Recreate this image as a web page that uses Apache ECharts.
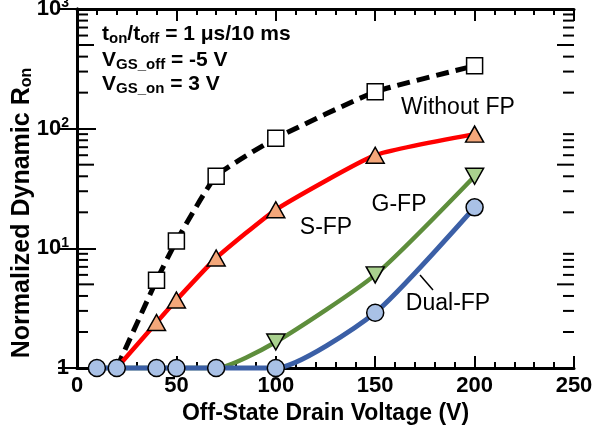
<!DOCTYPE html>
<html>
<head>
<meta charset="utf-8">
<script src="https://cdn.jsdelivr.net/npm/echarts@6/dist/echarts.min.js"></script>
<style>
  html, body { margin: 0; padding: 0; background: #fff; }
  #main { width: 605px; height: 425px; }
</style>
</head>
<body>
<div id="main"></div>
<script>
// data
const voltages = [10, 20, 40, 50, 70, 100, 150, 200]
const withoutFP = [1, 1, 5.4, 11.5, 40, 83, 203, 335]
const sFP = [1, 1, 2.4, 3.7, 8.3, 21, 60, 90]
const gFP = [1, 1, 1, 1, 1, 1.65, 6.0, 40]
const dualFP = [1, 1, 1, 1, 1, 1, 2.9, 22]
const yMinorTicks = [2, 3, 4, 5, 6, 7, 8, 9, 20, 30, 40, 50, 60, 70, 80, 90, 200, 300, 400, 500, 600, 700, 800, 900]

const FONT = '"Liberation Sans", Arial, sans-serif'

// markers sitting on the 1-line are hidden behind the Dual-FP circles
function pts (vals, hideOnes) {
  return vals.map((v, i) => {
    if (hideOnes && v <= 1) return { value: [voltages[i], v], symbol: 'none' }
    return [voltages[i], v]
  })
}

const myChart = echarts.init(document.getElementById('main'))

const axisLine = { lineStyle: { color: '#000', width: 3 } }
const subStyle = (size, pad) => ({ fontSize: size, fontWeight: 'bold', fontFamily: FONT, fill: '#000', padding: pad })

myChart.setOption({
  animation: false,
  grid: { left: 77, right: 31, top: 9, bottom: 57, outerBoundsMode: 'none', containLabel: false },
  xAxis: [
    {
      type: 'value',
      min: 0,
      max: 250,
      interval: 50,
      axisLine: axisLine,
      axisTick: { inside: true, length: 12, lineStyle: { color: '#000', width: 2 } },
      minorTick: { show: true, splitNumber: 5, length: 6, lineStyle: { color: '#000', width: 2 } },
      splitLine: { show: false },
      axisLabel: { color: '#000', fontSize: 22, fontWeight: 'bold', fontFamily: FONT, margin: 7 },
      name: 'Off-State Drain Voltage (V)',
      nameLocation: 'middle',
      nameGap: 31,
      nameTextStyle: { color: '#000', fontSize: 23, fontWeight: 'bold', fontFamily: FONT }
    },
    {
      type: 'value',
      position: 'top',
      min: 0,
      max: 250,
      interval: 50,
      axisLine: axisLine,
      axisTick: { inside: true, length: 12, lineStyle: { color: '#000', width: 2 } },
      minorTick: { show: true, splitNumber: 5, length: 6, lineStyle: { color: '#000', width: 2 } },
      splitLine: { show: false },
      axisLabel: { show: false }
    }
  ],
  yAxis: [
    {
      type: 'log',
      logBase: 10,
      min: 1,
      max: 1000,
      axisLine: axisLine,
      axisTick: { inside: true, length: 19, lineStyle: { color: '#000', width: 2 } },
      splitLine: { show: false },
      axisLabel: {
        color: '#000',
        fontSize: 22,
        fontWeight: 'bold',
        fontFamily: FONT,
        margin: 8,
        formatter: (value) => value === 1 ? '1' : '10{sup|' + Math.round(Math.log10(value)) + '}',
        rich: {
          sup: { fontSize: 14, fontWeight: 'bold', fontFamily: FONT, color: '#000', padding: [0, 0, 11, 0] }
        }
      }
    },
    {
      type: 'log',
      logBase: 10,
      position: 'right',
      min: 1,
      max: 1000,
      axisLine: axisLine,
      axisTick: { inside: true, length: 19, lineStyle: { color: '#000', width: 2 } },
      splitLine: { show: false },
      axisLabel: { show: false }
    }
  ],
  series: [
    {
      // minor log ticks on left and right frame
      type: 'custom',
      silent: true,
      clip: false,
      encode: { x: 0, y: 1 },
      data: yMinorTicks.map((v) => [0, v]),
      renderItem: (params, api) => {
        const v = api.value(1)
        const lead = Math.round(v / Math.pow(10, Math.floor(Math.log10(v) + 1e-9)))
        const len = lead === 5 ? 17 : 11
        const l = api.coord([0, v])
        const r = api.coord([250, v])
        const st = { stroke: '#000', lineWidth: 2 }
        return {
          type: 'group',
          children: [
            { type: 'line', shape: { x1: l[0], y1: l[1], x2: l[0] + len, y2: l[1] }, style: st },
            { type: 'line', shape: { x1: r[0], y1: r[1], x2: r[0] - len, y2: r[1] }, style: st }
          ]
        }
      }
    },
    {
      name: 'Without FP',
      type: 'line',
      clip: false,
      smooth: 0.15,
      data: pts(withoutFP, true).slice(1),
      symbol: 'rect',
      symbolSize: 16,
      lineStyle: { color: '#000', width: 5, type: [13, 7] },
      itemStyle: { color: '#fff', borderColor: '#000', borderWidth: 1.5 }
    },
    {
      name: 'S-FP',
      type: 'line',
      clip: false,
      smooth: 0.15,
      data: pts(sFP, true).slice(1),
      symbol: 'triangle',
      symbolSize: [18, 16],
      lineStyle: { color: '#ff0000', width: 4.5 },
      itemStyle: { color: '#f4a77a', borderColor: '#000', borderWidth: 1.5 }
    },
    {
      name: 'G-FP',
      type: 'line',
      clip: false,
      smooth: 0.2,
      data: pts(gFP, true),
      symbol: 'triangle',
      symbolRotate: 180,
      symbolSize: [18, 16],
      lineStyle: { color: '#5e8e3c', width: 4.5 },
      itemStyle: { color: '#a9d18e', borderColor: '#000', borderWidth: 1.5 }
    },
    {
      name: 'Dual-FP',
      type: 'line',
      clip: false,
      smooth: 0.2,
      data: pts(dualFP, false),
      symbol: 'circle',
      symbolSize: 17,
      lineStyle: { color: '#3b5fa6', width: 5 },
      itemStyle: { color: '#a9c1e6', borderColor: '#000', borderWidth: 1.5 }
    }
  ],
  graphic: [
    {
      type: 'text',
      x: 22,
      y: 213,
      rotation: Math.PI / 2,
      style: {
        text: 'Normalized Dynamic R{sub|on}',
        font: 'bold 25px ' + FONT,
        fill: '#000',
        align: 'center',
        verticalAlign: 'middle',
        rich: { sub: subStyle(16, [10, 0, 0, 0]) }
      }
    },
    {
      type: 'text',
      x: 102,
      y: 34,
      style: {
        text: 't{sub|on}/t{sub|off} = 1 μs/10 ms',
        font: 'bold 21px ' + FONT,
        fill: '#000',
        verticalAlign: 'middle',
        rich: { sub: subStyle(15, [10, 0, 0, 0]) }
      }
    },
    {
      type: 'text',
      x: 102,
      y: 60,
      style: {
        text: 'V{sub|GS_off} = -5 V',
        font: 'bold 21px ' + FONT,
        fill: '#000',
        verticalAlign: 'middle',
        rich: { sub: subStyle(15, [10, 0, 0, 0]) }
      }
    },
    {
      type: 'text',
      x: 102,
      y: 84,
      style: {
        text: 'V{sub|GS_on} = 3 V',
        font: 'bold 21px ' + FONT,
        fill: '#000',
        verticalAlign: 'middle',
        rich: { sub: subStyle(15, [10, 0, 0, 0]) }
      }
    },
    { type: 'text', x: 458, y: 108, style: { text: 'Without FP', font: '23px ' + FONT, fill: '#000', align: 'center', verticalAlign: 'middle' } },
    { type: 'text', x: 326, y: 228, style: { text: 'S-FP', font: '23px ' + FONT, fill: '#000', align: 'center', verticalAlign: 'middle' } },
    { type: 'text', x: 399, y: 205, style: { text: 'G-FP', font: '23px ' + FONT, fill: '#000', align: 'center', verticalAlign: 'middle' } },
    { type: 'text', x: 448, y: 304, style: { text: 'Dual-FP', font: '23px ' + FONT, fill: '#000', align: 'center', verticalAlign: 'middle' } },
    { type: 'line', shape: { x1: 420, y1: 275, x2: 433, y2: 290 }, style: { stroke: '#000', lineWidth: 1.5 } }
  ]
})
</script>
</body>
</html>
